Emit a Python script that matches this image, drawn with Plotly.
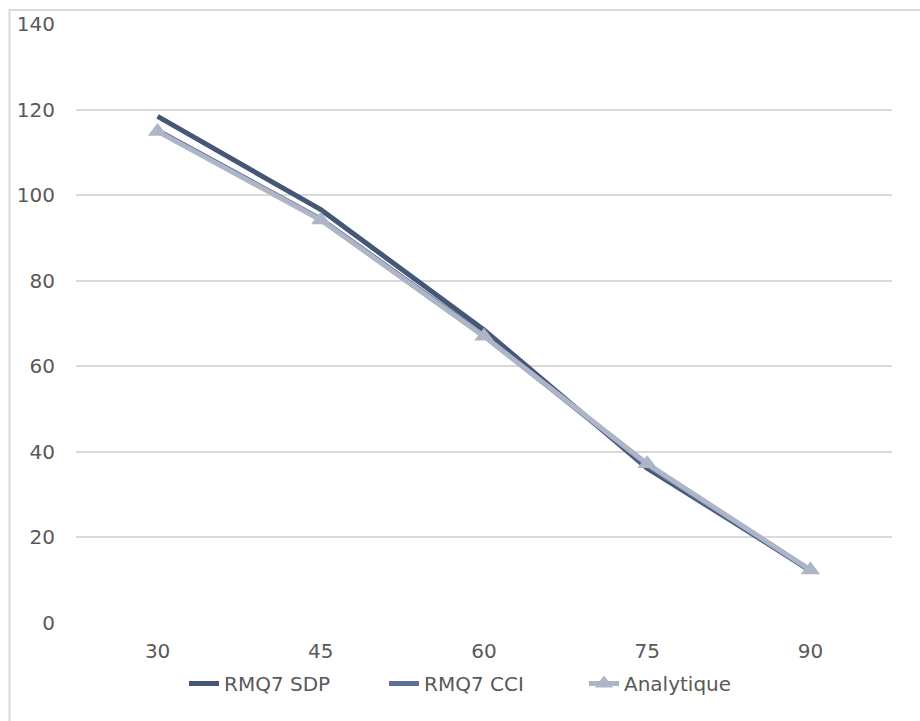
import plotly.graph_objects as go

# Angle categories and the three computed series
categories = ["30", "45", "60", "75", "90"]
rmq7_sdp = [118.4, 96.6, 68.5, 36.2, 12.3]
rmq7_cci = [115.1, 94.4, 67.2, 36.8, 12.2]
analytique = [114.9, 94.2, 67.0, 37.2, 12.4]
y_ticks = [0, 20, 40, 60, 80, 100, 120, 140]

FONT = dict(family="DejaVu Sans, Liberation Sans, sans-serif", size=20, color="#595959")

fig = go.Figure()
fig.add_trace(go.Scatter(
    x=categories, y=rmq7_sdp, name="RMQ7 SDP", mode="lines",
    line=dict(color="#455777", width=5),
))
fig.add_trace(go.Scatter(
    x=categories, y=rmq7_cci, name="RMQ7 CCI", mode="lines",
    line=dict(color="#5B6F98", width=5),
))
fig.add_trace(go.Scatter(
    x=categories, y=analytique, name="Analytique", mode="lines+markers",
    line=dict(color="#ADB5C7", width=5),
    marker=dict(symbol="triangle-up", size=17, color="#ADB5C7"),
))

# Light frame around the chart area
fig.add_shape(
    type="rect", xref="paper", yref="paper",
    x0=-0.0815, x1=1.2, y0=-0.3, y1=1.0233,
    line=dict(color="#D9D9D9", width=2), fillcolor="rgba(0,0,0,0)", layer="below",
)

fig.update_layout(
    width=920, height=721,
    margin=dict(l=76, r=28, t=21, b=98),
    paper_bgcolor="white", plot_bgcolor="white",
    font=FONT,
    showlegend=True,
    legend=dict(
        orientation="h", x=0.5, xanchor="center", y=-0.101, yanchor="middle",
        font=FONT, itemwidth=30, traceorder="normal",
        entrywidth=155, entrywidthmode="pixels",
    ),
    xaxis=dict(
        type="category", range=[-0.5, 4.5],
        showgrid=False, zeroline=False, showline=False,
        ticks="", tickfont=FONT, ticklabelstandoff=14,
    ),
    yaxis=dict(
        range=[0, 140], tickvals=y_ticks,
        showgrid=True, gridcolor="#D9D9D9", gridwidth=1.5,
        zeroline=False, showline=False, ticks="",
        tickfont=FONT, ticklabelstandoff=20,
    ),
)

fig.write_html("out.html")
